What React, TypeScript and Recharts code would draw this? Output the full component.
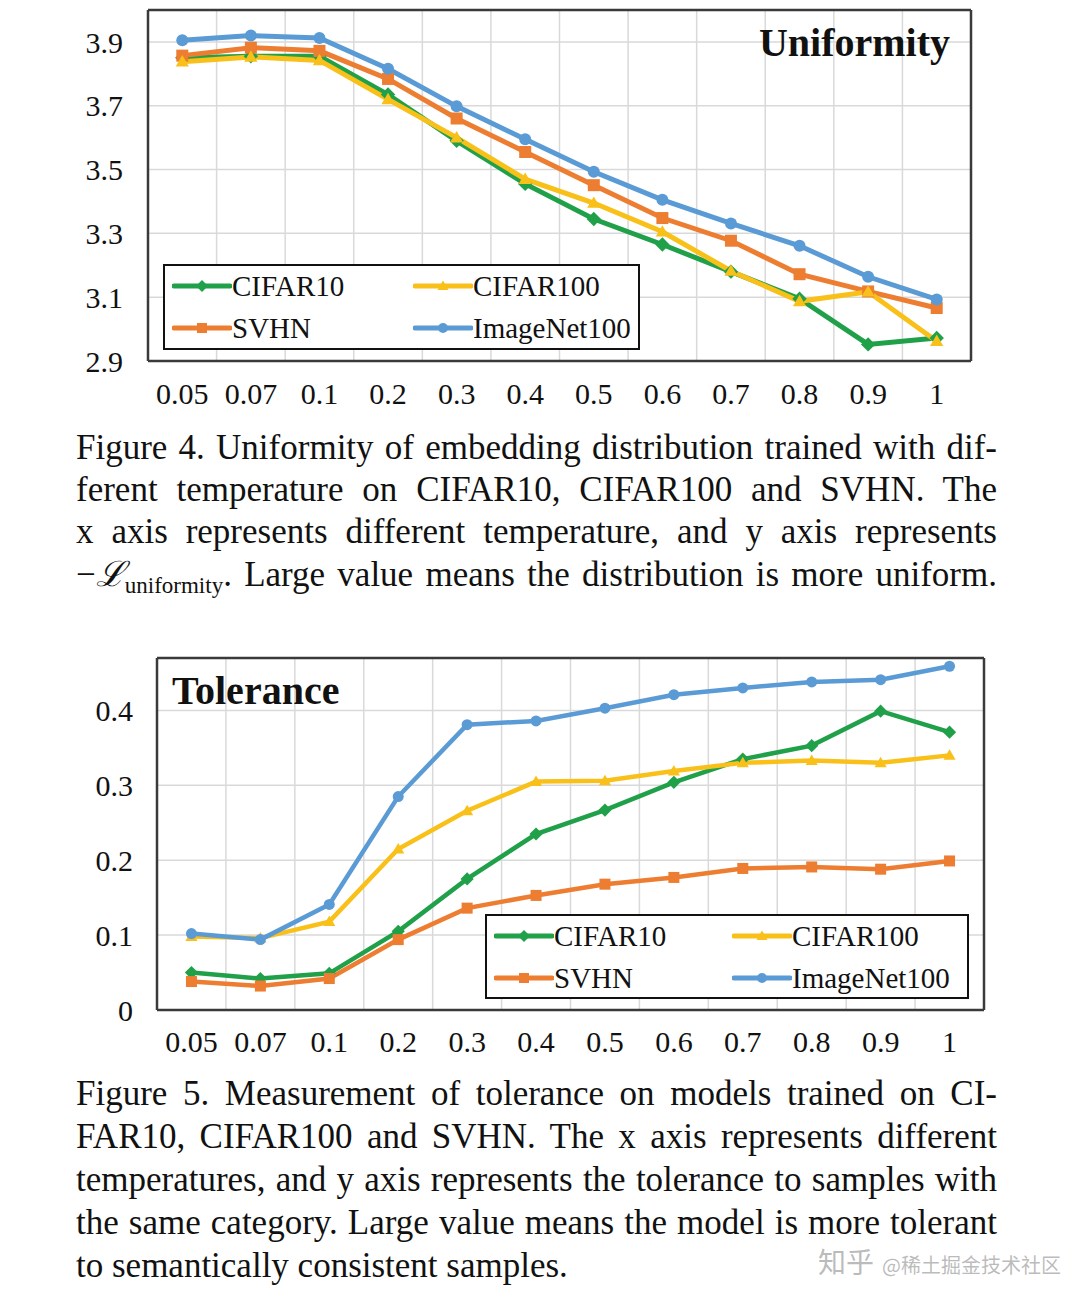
import React from 'react';
import { LineChart, Line, XAxis, YAxis, CartesianGrid, Legend } from 'recharts';

const temperatures = ['0.05', '0.07', '0.1', '0.2', '0.3', '0.4', '0.5', '0.6', '0.7', '0.8', '0.9', '1'];

// Figure 4 – uniformity
const cifar10Uni = [3.85, 3.855, 3.855, 3.735, 3.59, 3.455, 3.345, 3.265, 3.18, 3.095, 2.952, 2.972];
const cifar100Uni = [3.838, 3.853, 3.842, 3.72, 3.6, 3.47, 3.395, 3.305, 3.182, 3.087, 3.117, 2.962];
const svhnUni = [3.857, 3.882, 3.872, 3.784, 3.66, 3.555, 3.451, 3.348, 3.277, 3.172, 3.118, 3.066];
const imagenetUni = [3.905, 3.92, 3.912, 3.816, 3.698, 3.595, 3.493, 3.405, 3.331, 3.261, 3.164, 3.093];
const uniTicks = [2.9, 3.1, 3.3, 3.5, 3.7, 3.9];

// Figure 5 – tolerance
const cifar10Tol = [0.05, 0.042, 0.049, 0.105, 0.175, 0.235, 0.267, 0.304, 0.335, 0.353, 0.399, 0.371];
const cifar100Tol = [0.098, 0.096, 0.118, 0.215, 0.266, 0.305, 0.306, 0.319, 0.33, 0.333, 0.33, 0.34];
const svhnTol = [0.038, 0.032, 0.042, 0.094, 0.136, 0.153, 0.168, 0.177, 0.189, 0.191, 0.188, 0.199];
const imagenetTol = [0.102, 0.094, 0.141, 0.285, 0.381, 0.386, 0.403, 0.421, 0.43, 0.438, 0.441, 0.459];
const tolTicks = [0, 0.1, 0.2, 0.3, 0.4];

const uniformityData = temperatures.map((t, i) => ({
  t,
  cifar10: cifar10Uni[i],
  cifar100: cifar100Uni[i],
  svhn: svhnUni[i],
  imagenet100: imagenetUni[i],
}));

const toleranceData = temperatures.map((t, i) => ({
  t,
  cifar10: cifar10Tol[i],
  cifar100: cifar100Tol[i],
  svhn: svhnTol[i],
  imagenet100: imagenetTol[i],
}));

const FONT = '"Liberation Serif", "Times New Roman", Times, serif';

type Shape = 'diamond' | 'square' | 'triangle' | 'circle';

const series: { key: string; name: string; color: string; shape: Shape }[] = [
  { key: 'cifar10', name: 'CIFAR10', color: '#21a04a', shape: 'diamond' },
  { key: 'svhn', name: 'SVHN', color: '#ed7d31', shape: 'square' },
  { key: 'cifar100', name: 'CIFAR100', color: '#f9c01a', shape: 'triangle' },
  { key: 'imagenet100', name: 'ImageNet100', color: '#5b9bd5', shape: 'circle' },
];

const legendOrder = ['cifar10', 'cifar100', 'svhn', 'imagenet100'];

function Marker({ cx, cy, shape, color, s }: { cx: number; cy: number; shape: Shape; color: string; s: number }) {
  if (cx == null || cy == null) return null;
  if (shape === 'diamond') {
    return <path d={`M${cx},${cy - s * 1.2} L${cx + s * 1.2},${cy} L${cx},${cy + s * 1.2} L${cx - s * 1.2},${cy} Z`} fill={color} />;
  }
  if (shape === 'square') {
    return <rect x={cx - s} y={cy - s} width={s * 2} height={s * 2} fill={color} />;
  }
  if (shape === 'triangle') {
    return <path d={`M${cx},${cy - s * 1.1} L${cx + s * 1.1},${cy + s * 0.8} L${cx - s * 1.1},${cy + s * 0.8} Z`} fill={color} />;
  }
  return <circle cx={cx} cy={cy} r={s} fill={color} />;
}

// light grid lines sit on the category band edges, like Excel
const bandEdges = (props: any) => {
  const { offset } = props;
  const step = offset.width / temperatures.length;
  return temperatures.slice(1).map((_, i) => offset.left + step * (i + 1));
};
const frameV = (props: any) => [props.offset.left, props.offset.left + props.offset.width];
const frameH = (props: any) => [props.offset.top, props.offset.top + props.offset.height];

function LegendBox({ width, height, colGap }: { width: number; height: number; colGap: number }) {
  return (
    <div
      style={{
        width,
        height,
        boxSizing: 'border-box',
        border: '2.5px solid #111',
        background: '#fff',
        display: 'grid',
        gridTemplateColumns: `${colGap}px 1fr`,
        alignContent: 'center',
        rowGap: 4,
        paddingLeft: 7,
        fontFamily: FONT,
        fontSize: 29,
        color: '#111',
      }}
    >
      {legendOrder.map((k) => {
        const s = series.find((x) => x.key === k)!;
        return (
          <div key={k} style={{ display: 'flex', alignItems: 'center', height: 38 }}>
            <svg width={60} height={20}>
              <line x1={2} y1={10} x2={58} y2={10} stroke={s.color} strokeWidth={5} strokeLinecap="round" />
              <Marker cx={30} cy={10} shape={s.shape} color={s.color} s={5} />
            </svg>
            <span style={{ lineHeight: '38px', whiteSpace: 'nowrap' }}>{s.name}</span>
          </div>
        );
      })}
    </div>
  );
}

const tickStyle = { fontSize: 30, fill: '#111', fontFamily: FONT };

function renderLines(strokeWidth: number, markerSize: number) {
  return series.map((s) => (
    <Line
      key={s.key}
      type="linear"
      dataKey={s.key}
      name={s.name}
      stroke={s.color}
      strokeWidth={strokeWidth}
      isAnimationActive={false}
      dot={(p: any) => (
        <Marker key={`${s.key}-${p.index}`} cx={p.cx} cy={p.cy} shape={s.shape} color={s.color} s={markerSize} />
      )}
      activeDot={false}
    />
  ));
}

function UniformityChart() {
  return (
    <LineChart width={1080} height={420} data={uniformityData} margin={{ top: 10, right: 109, bottom: 9, left: 88 }}>
      <CartesianGrid stroke="#d9d9d9" strokeWidth={1.5} verticalCoordinatesGenerator={bandEdges} />
      <CartesianGrid
        stroke="#3a3a3a"
        strokeWidth={2.5}
        horizontalCoordinatesGenerator={frameH}
        verticalCoordinatesGenerator={frameV}
      />
      <XAxis
        dataKey="t"
        scale="band"
        interval={0}
        axisLine={false}
        tickLine={false}
        tickSize={0}
        tickMargin={22}
        height={50}
        tick={tickStyle}
      />
      <YAxis
        domain={[2.9, 4.0]}
        ticks={uniTicks}
        tickFormatter={(v: number) => v.toFixed(1)}
        axisLine={false}
        tickLine={false}
        tickSize={0}
        tickMargin={25}
        width={60}
        tick={tickStyle}
      />
      {renderLines(5, 6)}
      <Legend
        layout="vertical"
        align="center"
        verticalAlign="middle"
        wrapperStyle={{ left: 163, top: 264, width: 477, height: 86 }}
        content={() => <LegendBox width={477} height={86} colGap={241} />}
      />
    </LineChart>
  );
}

function ToleranceChart() {
  return (
    <LineChart width={1080} height={420} data={toleranceData} margin={{ top: 10, right: 96, bottom: 8, left: 97 }}>
      <CartesianGrid stroke="#d9d9d9" strokeWidth={1.5} verticalCoordinatesGenerator={bandEdges} />
      <CartesianGrid
        stroke="#3a3a3a"
        strokeWidth={2.5}
        horizontalCoordinatesGenerator={frameH}
        verticalCoordinatesGenerator={frameV}
      />
      <XAxis
        dataKey="t"
        scale="band"
        interval={0}
        axisLine={false}
        tickLine={false}
        tickSize={0}
        tickMargin={21}
        height={50}
        tick={tickStyle}
      />
      <YAxis
        domain={[0, 0.47]}
        ticks={tolTicks}
        tickFormatter={(v: number) => (v === 0 ? '0' : v.toFixed(1))}
        axisLine={false}
        tickLine={false}
        tickSize={0}
        tickMargin={24}
        width={60}
        tick={tickStyle}
      />
      {renderLines(4.5, 5.5)}
      <Legend
        layout="vertical"
        align="center"
        verticalAlign="middle"
        wrapperStyle={{ left: 485, top: 266, width: 484, height: 85 }}
        content={() => <LegendBox width={484} height={85} colGap={238} />}
      />
    </LineChart>
  );
}

const caption4 = [
  'Figure 4. Uniformity of embedding distribution trained with dif-',
  'ferent temperature on CIFAR10, CIFAR100 and SVHN. The',
  'x axis represents different temperature, and y axis represents',
];
const caption5 = [
  'Figure 5. Measurement of tolerance on models trained on CI-',
  'FAR10, CIFAR100 and SVHN. The x axis represents different',
  'temperatures, and y axis represents the tolerance to samples with',
  'the same category. Large value means the model is more tolerant',
];

const lineStyle = (lh: number): React.CSSProperties => ({
  height: lh,
  lineHeight: `${lh}px`,
  textAlign: 'justify',
  textAlignLast: 'justify',
  whiteSpace: 'nowrap',
});

export default function App() {
  return (
    <div
      style={{
        position: 'absolute',
        left: 0,
        top: 0,
        width: 1080,
        height: 1298,
        background: '#fff',
        fontFamily: FONT,
        color: '#111',
        overflow: 'hidden',
      }}
    >
      <div style={{ position: 'absolute', left: 0, top: 0 }}>
        <UniformityChart />
      </div>
      <div style={{ position: 'absolute', right: 130, top: 23, fontSize: 40, fontWeight: 'bold', lineHeight: '40px' }}>
        Uniformity
      </div>

      <div style={{ position: 'absolute', left: 76, top: 427, width: 921, fontSize: 35 }}>
        {caption4.map((l) => (
          <div key={l} style={lineStyle(42)}>
            {l}
          </div>
        ))}
        <div style={lineStyle(42)}>
          −<span style={{ fontFamily: '"DejaVu Serif", serif', fontStyle: 'italic' }}>ℒ</span>
          <span style={{ fontSize: 23, position: 'relative', top: 7 }}>uniformity</span>. Large value means the
          distribution is more uniform.
        </div>
      </div>

      <div style={{ position: 'absolute', left: 0, top: 648 }}>
        <ToleranceChart />
      </div>
      <div style={{ position: 'absolute', left: 172, top: 671, fontSize: 40, fontWeight: 'bold', lineHeight: '40px' }}>
        Tolerance
      </div>

      <div style={{ position: 'absolute', left: 76, top: 1072, width: 921, fontSize: 35 }}>
        {caption5.map((l) => (
          <div key={l} style={lineStyle(43)}>
            {l}
          </div>
        ))}
        <div style={{ height: 43, lineHeight: '43px', whiteSpace: 'nowrap' }}>to semantically consistent samples.</div>
      </div>

      <div
        style={{
          position: 'absolute',
          left: 818,
          top: 1246,
          lineHeight: '30px',
          whiteSpace: 'nowrap',
          color: 'rgba(120,120,120,0.5)',
          fontFamily: '"Noto Sans CJK SC", sans-serif',
        }}
      >
        <span style={{ fontSize: 28 }}>知乎</span>
        <span style={{ fontSize: 20, marginLeft: 8 }}>@稀土掘金技术社区</span>
      </div>
    </div>
  );
}
